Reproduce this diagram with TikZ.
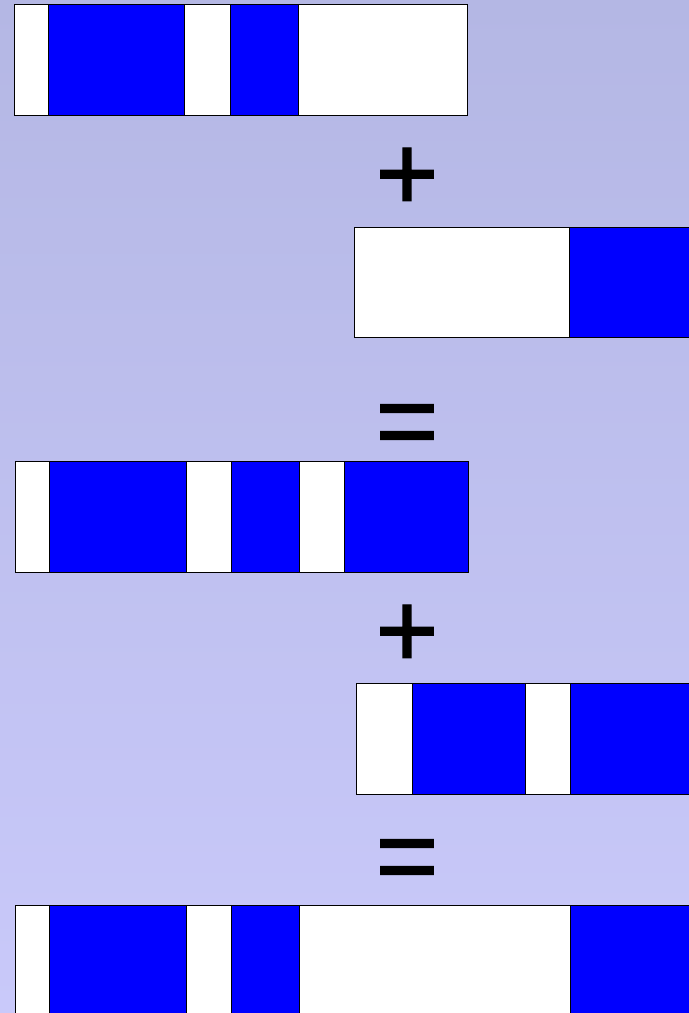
\documentclass[tikz,border=0pt]{standalone}
\usepackage{fontspec}
\setmainfont{Liberation Sans}
\newfontfamily\symfont[FakeBold=1.3]{Liberation Sans}
\definecolor{bgtop}{RGB}{180,183,228}
\definecolor{bgbot}{RGB}{201,201,250}
\definecolor{segblue}{RGB}{0,0,255}
\def\Frame{(0,0) rectangle (689,1013)}
\tikzset{
  cell/.style={draw=black,line width=0.8bp},
  whitecell/.style={cell,fill=white},
  bluecell/.style={cell,fill=segblue},
  sym/.style={font=\symfont\fontsize{108}{108}\selectfont,inner sep=0pt,text=black}
}

\begin{document}
\begin{tikzpicture}[x=1bp,y=-1bp]
    \shade[top color=bgtop,bottom color=bgbot] \Frame;
    \useasboundingbox \Frame;
    \clip \Frame;
    \begin{scope}
      % first row
      \draw[whitecell] (14,4) rectangle (467,115);
      \foreach \a/\b in {48/184,230/298}
        \draw[bluecell] (\a,4) rectangle (\b,115);
      \node[sym] (plusA) at (407,179) {+};
      % second row
      \draw[whitecell] (354,227) rectangle (700,337);
      \draw[bluecell] (569,227) rectangle (700,337);
      \node[sym] (eqA) at (407,431) {=};
      % third row
      \draw[whitecell] (15,461) rectangle (468,572);
      \foreach \a/\b in {49/186,231/299,344/468}
        \draw[bluecell] (\a,461) rectangle (\b,572);
      \node[sym] (plusB) at (407,636) {+};
      % fourth row
      \draw[whitecell] (356,683) rectangle (700,794);
      \foreach \a/\b in {412/525,570/700}
        \draw[bluecell] (\a,683) rectangle (\b,794);
      \node[sym] (eqB) at (407,866) {=};
      % result
      \draw[whitecell] (15,905) rectangle (700,1030);
      \foreach \a/\b in {49/186,231/299,570/700}
        \draw[bluecell] (\a,905) rectangle (\b,1030);
    \end{scope}
  \end{tikzpicture}
\end{document}
